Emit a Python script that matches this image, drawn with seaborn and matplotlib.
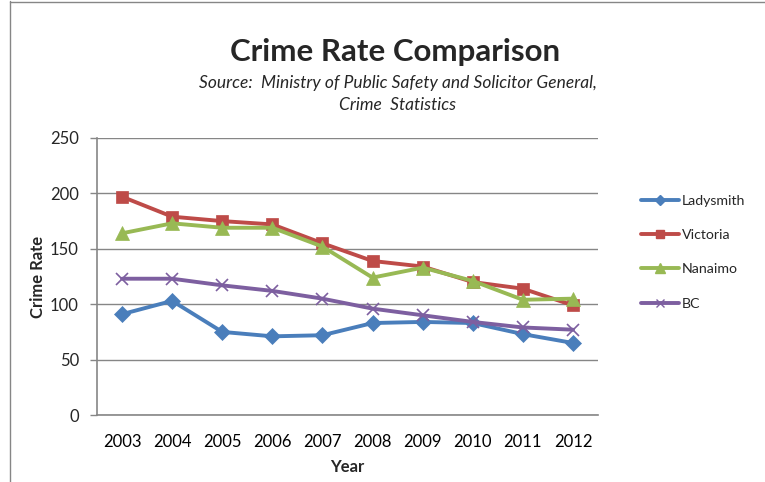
import matplotlib
matplotlib.use("Agg")
import matplotlib.pyplot as plt
import seaborn as sns
import pandas as pd
from matplotlib.lines import Line2D

years = ["2003", "2004", "2005", "2006", "2007", "2008", "2009", "2010", "2011", "2012"]
ladysmith = [91, 103, 75, 71, 72, 83, 84, 83, 73, 65]
victoria = [197, 179, 175, 172, 155, 139, 134, 120, 114, 99]
nanaimo = [164, 173, 169, 169, 152, 124, 133, 121, 104, 105]
bc = [123, 123, 117, 112, 105, 96, 90, 84, 79, 77]

series_names = ["Ladysmith", "Victoria", "Nanaimo", "BC"]
series_values = [ladysmith, victoria, nanaimo, bc]
colors = ["#4A7EBB", "#BE4B48", "#98B954", "#7D5FA0"]
markers = ["D", "s", "^", "x"]
msizes = [8, 9, 10, 9]

rows = []
for name, vals in zip(series_names, series_values):
    for i, (yr, v) in enumerate(zip(years, vals)):
        rows.append({"pos": i, "Year": yr, "Crime Rate": v, "Series": name})
df = pd.DataFrame(rows)

sns.set_theme(style="white")
plt.rcParams["font.family"] = ["Lato", "DejaVu Sans"]

fig = plt.figure(figsize=(7.65, 4.82), dpi=100)
ax = fig.add_axes([97 / 765, 1 - 415 / 482, (598 - 97) / 765, (415 - 138) / 482])

for name, col, mk, ms in zip(series_names, colors, markers, msizes):
    sub = df[df["Series"] == name]
    sns.lineplot(data=sub, x="pos", y="Crime Rate", ax=ax, color=col,
                 linewidth=2.8, marker=mk, markersize=ms,
                 markeredgecolor=col, markeredgewidth=1.2 if mk == "x" else 0.5,
                 legend=False, zorder=3)

ax.set_xlim(-0.5, len(years) - 0.5)
ax.set_ylim(0, 250)
ax.set_yticks(range(0, 251, 50))
ax.set_xticks(range(len(years)))
ax.set_xticklabels(years)
ax.set_xticks([i - 0.5 for i in range(len(years) + 1)], minor=True)
ax.tick_params(axis="x", which="major", length=0, pad=14, labelsize=12, colors="#000000")
ax.tick_params(axis="x", which="minor", length=5, width=1, color="#868686", direction="out")
ax.tick_params(axis="y", length=5, width=1, color="#868686", direction="out",
               pad=8, labelsize=12, left=True)
ax.grid(axis="y", color="#868686", linewidth=1)
ax.set_axisbelow(True)
for side in ["top", "right"]:
    ax.spines[side].set_visible(False)
for side in ["left", "bottom"]:
    ax.spines[side].set_color("#868686")
    ax.spines[side].set_linewidth(1.2)

ax.set_xlabel("Year", fontsize=12, fontweight="bold", labelpad=6)
ax.set_ylabel("Crime Rate", fontsize=12, fontweight="bold", labelpad=3)

fig.text(395 / 765, 1 - 52 / 482, "Crime Rate Comparison", ha="center", va="center",
         fontsize=22.5, fontweight="bold")
fig.text(398 / 765, 1 - 83 / 482, "Source:  Ministry of Public Safety and Solicitor General,",
         ha="center", va="center", fontsize=12.5, style="italic")
fig.text(398 / 765, 1 - 105 / 482, "Crime  Statistics", ha="center", va="center",
         fontsize=12.5, style="italic")

handles = [Line2D([0], [0], color=c, linewidth=2.8, marker=m, markersize=s * 0.7,
                  markeredgecolor=c) for c, m, s in zip(colors, markers, msizes)]
fig.legend(handles, series_names, loc="upper left", bbox_to_anchor=(635 / 765, 1 - 189 / 482),
           frameon=False, fontsize=10.2, handlelength=2.7, handletextpad=0.2,
           labelspacing=1.58, borderaxespad=0)

# outer frame on the top and left edges
fig.add_artist(Line2D([10 / 765, 10 / 765], [0, 1 - 1 / 482], color="#868686", linewidth=1,
                      transform=fig.transFigure))
fig.add_artist(Line2D([10 / 765, 1], [1 - 1.5 / 482, 1 - 1.5 / 482], color="#868686",
                      linewidth=1, transform=fig.transFigure))

fig.savefig("out.png", dpi=100, facecolor="white")
